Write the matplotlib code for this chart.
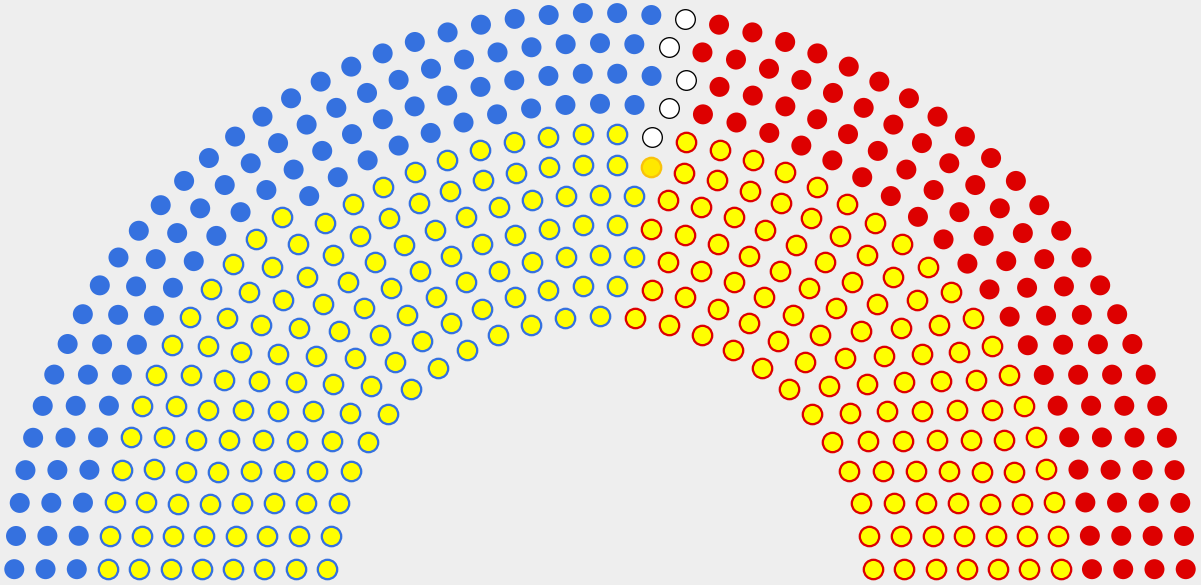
#US House hemicycle - 435 seats in 11 rows (arch layout)
import math
import numpy as np
import matplotlib
matplotlib.use("Agg")
import matplotlib.pyplot as plt

#seats in each row, inner row first; within a row parties run left to right in this order
dem_marked = [13, 15, 17, 18, 20, 21, 22, 13, 0, 0, 0]   #yellow, blue ring
dem        = [0, 0, 0, 0, 0, 0, 0, 11, 26, 27, 29]       #blue
vacant     = [0, 0, 0, 0, 0, 0, 1, 1, 1, 1, 1]           #empty
lib        = [0, 0, 0, 0, 0, 1, 0, 0, 0, 0, 0]           #libertarian
rep_marked = [12, 13, 14, 16, 17, 18, 19, 0, 0, 0, 0]    #yellow, red ring
rep        = [0, 0, 0, 0, 0, 0, 0, 20, 21, 23, 24]       #red

groups = [dem_marked, dem, vacant, lib, rep_marked, rep]

#(face, edge, edge width pt, marker size)
styles = [
    ('#FFFF00', '#3571DF', 1.65, 195),
    ('#3571DF', 'none', 0, 207),
    ('#FFFFFF', '#000000', 0.95, 200),
    ('#FFE800', '#F8C20C', 1.65, 195),
    ('#FFFF00', '#DD0000', 1.65, 195),
    ('#DD0000', 'none', 0, 207),
]

rows = len(dem)
spot = 0.4 / rows

#seat centres, row by row
xs = [[] for g in groups]
ys = [[] for g in groups]
for i in range(rows):
    R = (3.0 * rows + 4.0 * (i + 1) - 2.0) / (4.0 * rows)
    J = sum(g[i] for g in groups)
    off = math.sin(spot / R)
    angles = np.linspace(math.pi - off, off, J)   #left to right
    k = 0
    for n, g in enumerate(groups):
        for a in angles[k:k + g[i]]:
            xs[n].append(R * math.cos(a))
            ys[n].append(R * math.sin(a))
        k += g[i]

fig = plt.figure(figsize=(12.01, 5.85), dpi=100, facecolor='#EEEEEE')
ax = fig.add_axes([0, 0, 1, 1])
ax.set_facecolor('#EEEEEE')

for n, (fc, ec, lw, s) in enumerate(styles):
    ax.scatter(xs[n], ys[n], s=s, c=fc, edgecolors=ec, linewidths=lw, zorder=2)

#pixel mapping: x = 600 + 343.7*X, y = 581.3 - 333.5*Y
ax.set_xlim(-600 / 343.7, 601 / 343.7)
ax.set_ylim((581.3 - 585) / 333.5, 581.3 / 333.5)
ax.axis('off')

plt.savefig('out.png', dpi=100, facecolor='#EEEEEE')
